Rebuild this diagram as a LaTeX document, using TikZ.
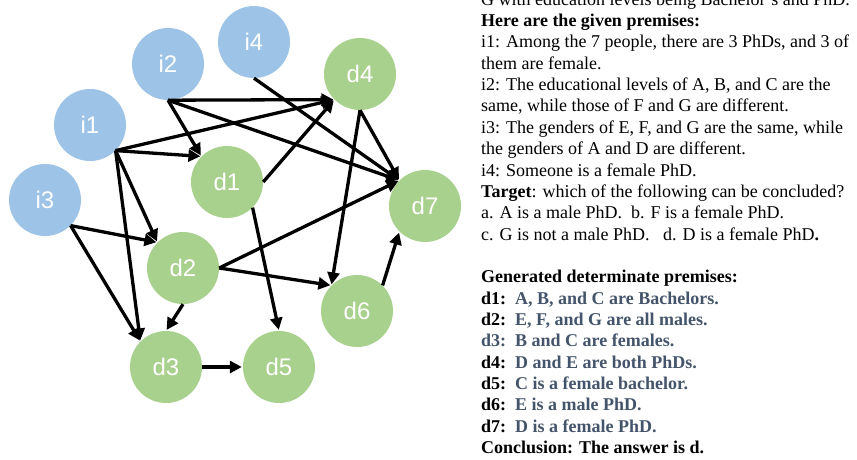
\documentclass[tikz,border=0pt]{standalone}
\usepackage{fontspec}
\setmainfont{Liberation Serif}
\newfontfamily\labfont{Liberation Sans}
\usetikzlibrary{arrows.meta}
\definecolor{iblue}{HTML}{9DC3E6}
\definecolor{dgreen}{HTML}{A9D18E}
\definecolor{slate}{HTML}{44546A}
\tikzset{
  circ/.style={circle, minimum size=72pt, inner sep=0pt, text=white, font=\labfont\fontsize{24}{24}\selectfont},
  inode/.style={circ, fill=iblue},
  dnode/.style={circ, fill=dgreen},
  arr/.style={-{Triangle[length=12pt,width=12pt]}, line width=3.3pt, black, shorten >=1pt},
  txt/.style={anchor=base west, inner sep=0pt, font=\fontsize{18}{21}\selectfont}
}
\begin{document}
\begin{tikzpicture}[x=1pt,y=-1pt]
\useasboundingbox (0,0) rectangle (857,460);
% nodes
\node[inode] (i1) at (90,125) {i1};
\node[inode] (i2) at (168,64) {i2};
\node[inode] (i3) at (45,200) {i3};
\node[inode] (i4) at (254,42) {i4};
\node[dnode] (d1) at (227,182) {d1};
\node[dnode] (d2) at (183,268) {d2};
\node[dnode] (d3) at (166,367) {d3};
\node[dnode] (d4) at (360,74) {d4};
\node[dnode] (d5) at (279,367) {d5};
\node[dnode] (d6) at (357,311) {d6};
\node[dnode] (d7) at (425,206) {d7};
% edges
\draw[arr] (i2.south) -- (d4.south west);
\draw[arr] (i2.south) -- (d1.north west);
\draw[arr] (i2.south) -- (d7.north west);
\draw[arr] (i4.south) -- (d7.north west);
\draw[arr] (i1.south east) -- (d4.south west);
\draw[arr] (i1.south east) -- (d1.north west);
\draw[arr] (i1.south east) -- (d2.north west);
\draw[arr] (i1.south east) -- (d3.north west);
\draw[arr] (d1.east) -- (d4.south west);
\draw[arr] (d1.south east) -- (d5.north);
\draw[arr] (d4.south) -- (d7.north west);
\draw[arr] (d4.south) -- (d6.north west);
\draw[arr] (i3.south east) -- (d2.north west);
\draw[arr] (i3.south east) -- (d3.north west);
\draw[arr] (d2.east) -- (d7.north west);
\draw[arr] (d2.east) -- (d6.north west);
\draw[arr] (d2.south) -- (d3.north);
\draw[arr] (d3.east) -- (d5.west);
\draw[arr] (d6.north east) -- (d7.south west);
% text
\def\bl#1{5.2+21.35*#1}
\node[txt] (t0) at (481,{\bl{0}}) {G with education levels being Bachelor's and PhD.};
\node[txt] (t1) at (481,{\bl{1}}) {\textbf{Here are the given premises:}};
\node[txt] (t2) at (481,{\bl{2}}) {i1: Among the 7 people, there are 3 PhDs, and 3 of};
\node[txt] (t3) at (481,{\bl{3}}) {them are female.};
\node[txt] (t4) at (481,{\bl{4}}) {i2: The educational levels of A, B, and C are the};
\node[txt] (t5) at (481,{\bl{5}}) {same, while those of F and G are different.};
\node[txt] (t6) at (481,{\bl{6}}) {i3: The genders of E, F, and G are the same, while};
\node[txt] (t7) at (481,{\bl{7}}) {the genders of A and D are different.};
\node[txt] (t8) at (481,{\bl{8}}) {i4: Someone is a female PhD.};
\node[txt] (t9) at (481,{\bl{9}}) {\textbf{Target}: which of the following can be concluded?};
\node[txt] (t10) at (481,{\bl{10}}) {a. A is a male PhD.\ \ b. F is a female PhD.};
\node[txt] (t11) at (481,{\bl{11}}) {c. G is not a male PhD.\ \ \ d. D is a female PhD\textbf{.}};
\node[txt] (t13) at (481,{\bl{13}}) {\textbf{Generated determinate premises:}};
\node[txt] (t14) at (481,{\bl{14}}) {\textbf{d1:\ \ \textcolor{slate}{A, B, and C are Bachelors.}}};
\node[txt] (t15) at (481,{\bl{15}}) {\textbf{d2:\ \ \textcolor{slate}{E, F, and G are all males.}}};
\node[txt] (t16) at (481,{\bl{16}}) {\textbf{\textcolor{slate}{d3:\ \ B and C are females.}}};
\node[txt] (t17) at (481,{\bl{17}}) {\textbf{d4:\ \ \textcolor{slate}{D and E are both PhDs.}}};
\node[txt] (t18) at (481,{\bl{18}}) {\textbf{d5:\ \ \textcolor{slate}{C is a female bachelor.}}};
\node[txt] (t19) at (481,{\bl{19}}) {\textbf{d6:\ \ \textcolor{slate}{E is a male PhD.}}};
\node[txt] (t20) at (481,{\bl{20}}) {\textbf{d7:\ \ \textcolor{slate}{D is a female PhD.}}};
\node[txt] (t21) at (481,{\bl{21}}) {\textbf{Conclusion: The answer is d.}};
\end{tikzpicture}
\end{document}
